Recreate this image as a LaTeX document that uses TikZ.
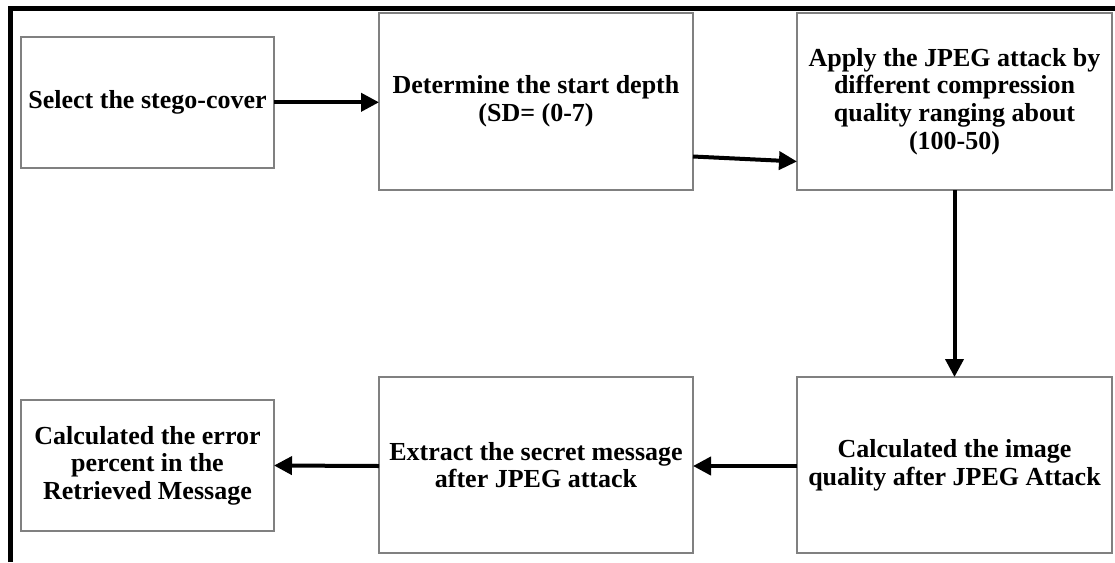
\documentclass[tikz,border=0pt]{standalone}
\usepackage{fontspec}
\setmainfont{Liberation Serif}
\usetikzlibrary{arrows.meta}
\begin{document}
\begin{tikzpicture}[x=1pt,y=-1pt,
  box/.style={draw=black!50, line width=2.6pt, outer sep=0pt, align=center,
    font=\bfseries\fontsize{26}{27.6}\selectfont, inner sep=0pt},
  conn/.style={line width=4pt, -{Triangle[length=18pt,width=18pt]}},
  frame/.style={line width=4.8pt, black}]
\useasboundingbox (0,0) rectangle (1115,562);
\draw[frame] (10.8,562) -- (10.8,8.4) -- (1115,8.4);
\node[box, minimum width=253pt, minimum height=131pt] (b1) at (147.5,102.3) {Select the stego-cover};
\node[box, minimum width=314pt, minimum height=177pt] (b2) at (536,101.5) {Determine the start depth\\(SD= (0-7)};
\node[box, minimum width=315pt, minimum height=177pt] (b3) at (954.5,101.5) {Apply the JPEG attack by\\different compression\\quality ranging about\\(100-50)};
\node[box, minimum width=253pt, minimum height=131pt] (b4) at (147.5,465.5) {Calculated the error\\percent in the\\Retrieved Message};
\node[box, minimum width=314pt, minimum height=176pt] (b5) at (536,465) {Extract the secret message\\after JPEG attack};
\node[box, minimum width=315pt, minimum height=176pt] (b6) at (954.5,465) {Calculated the image\\quality after JPEG Attack};
\draw[conn] (b1.east) -- (b2.west |- b1.east);
\draw[conn] ([yshift=-55pt]b2.east) -- ([yshift=-60pt]b3.west);
\draw[conn] (b3.south) -- (b6.north);
\draw[conn] ([yshift=-1pt]b6.west) -- ([yshift=-1pt]b5.east);
\draw[conn] ([yshift=-1pt]b5.west) -- (b4.east);
\end{tikzpicture}
\end{document}
